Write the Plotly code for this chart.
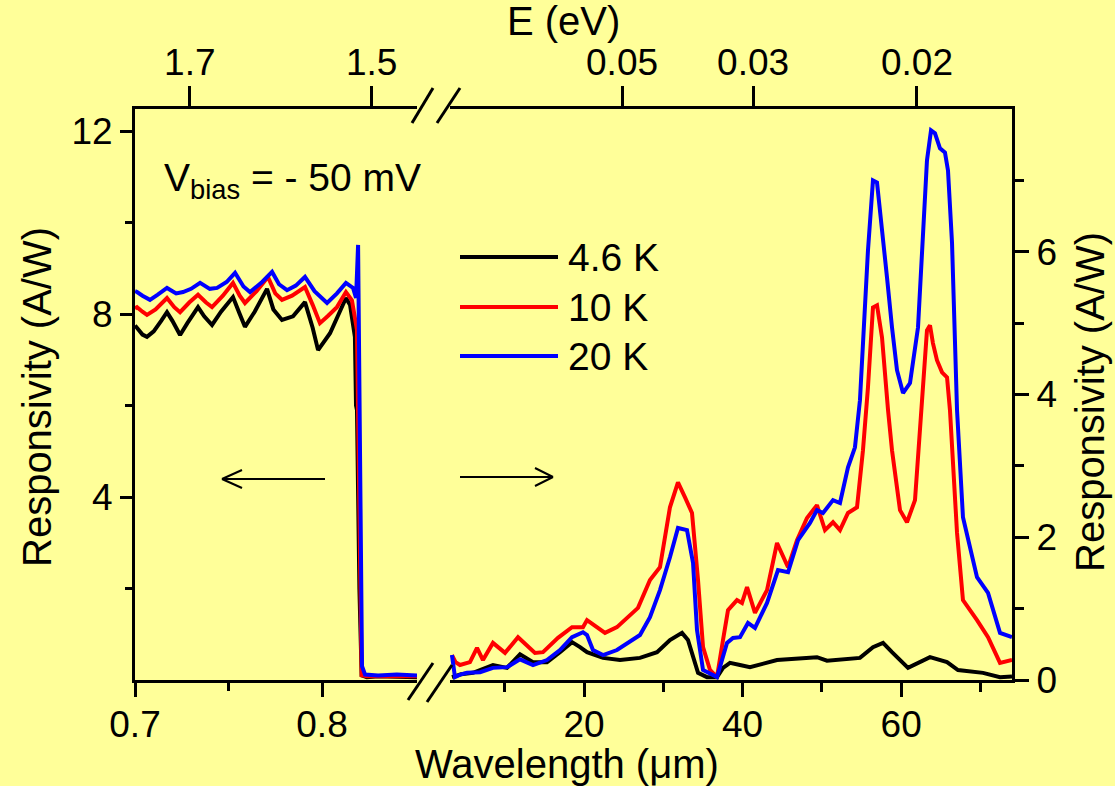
import plotly.graph_objects as go

# ---------------- data ----------------
# near-IR part (left axis, A/W), wavelength in micrometres
nir_x_black = [0.7000, 0.7011, 0.7040, 0.7064, 0.7100, 0.7140, 0.7171, 0.7200, 0.7241, 0.7280,
               0.7337, 0.7370, 0.7412, 0.7460, 0.7524, 0.7560, 0.7588, 0.7640, 0.7706, 0.7740,
               0.7786, 0.7845, 0.7909, 0.7950, 0.7979, 0.8043, 0.8090, 0.8128, 0.8150, 0.8176,
               0.8182, 0.8187, 0.8200, 0.8212, 0.8240, 0.8300, 0.8400, 0.8508]
nir_y_black = [7.75, 7.69, 7.55, 7.50, 7.62, 7.85, 8.04, 7.85, 7.54, 7.80,
               8.15, 7.95, 7.76, 8.05, 8.37, 8.00, 7.72, 8.05, 8.55, 8.10,
               7.87, 7.95, 8.26, 7.70, 7.21, 7.58, 8.00, 8.35, 8.20, 7.50,
               6.00, 5.90, 2.00, 0.10, 0.06, 0.08, 0.07, 0.06]

nir_x_red = [0.7000, 0.7011, 0.7040, 0.7064, 0.7110, 0.7171, 0.7210, 0.7241, 0.7290, 0.7337,
             0.7380, 0.7412, 0.7470, 0.7524, 0.7560, 0.7588, 0.7650, 0.7711, 0.7750, 0.7786,
             0.7840, 0.7909, 0.7950, 0.7989, 0.8030, 0.8080, 0.8128, 0.8160, 0.8187, 0.8198,
             0.8212, 0.8240, 0.8300, 0.8400, 0.8508]
nir_y_red = [8.12, 8.15, 8.05, 7.98, 8.10, 8.35, 8.15, 8.04, 8.25, 8.42,
             8.25, 8.15, 8.40, 8.68, 8.40, 8.24, 8.50, 8.81, 8.45, 8.31,
             8.40, 8.59, 8.20, 7.80, 7.95, 8.15, 8.48, 8.30, 7.65, 4.00,
             0.10, 0.08, 0.09, 0.08, 0.08]

nir_x_blue = [0.7000, 0.7011, 0.7040, 0.7080, 0.7120, 0.7171, 0.7220, 0.7257, 0.7300, 0.7348,
              0.7400, 0.7439, 0.7490, 0.7535, 0.7580, 0.7615, 0.7680, 0.7733, 0.7770, 0.7813,
              0.7860, 0.7909, 0.7960, 0.8027, 0.8080, 0.8128, 0.8166, 0.8182, 0.8193, 0.8200,
              0.8214, 0.8230, 0.8300, 0.8400, 0.8508]
nir_y_blue = [8.50, 8.48, 8.40, 8.31, 8.42, 8.57, 8.45, 8.48, 8.55, 8.68,
              8.55, 8.57, 8.70, 8.90, 8.60, 8.48, 8.70, 8.92, 8.65, 8.52,
              8.62, 8.81, 8.50, 8.24, 8.45, 8.68, 8.57, 8.35, 9.51, 7.00,
              0.30, 0.12, 0.10, 0.12, 0.10]

# far-IR part (right axis, A/W), wavelength in micrometres
fir_x_black = [3.35, 4.5, 6.0, 7.3, 8.52, 10.29, 11.93, 13.57, 15.33, 16.97,
               18.49, 19.5, 20.38, 22.40, 24.54, 27.06, 29.21, 30.84, 32.36, 33.11,
               33.75, 34.38, 35.51, 36.77, 37.53, 38.41, 39.67, 40.93, 44.34, 47.24,
               49.38, 50.64, 54.80, 56.44, 57.71, 58.84, 60.86, 63.63, 65.78, 67.16,
               70.32, 72.46, 73.97]
fir_y_black = [0.04, 0.08, 0.10, 0.15, 0.21, 0.17, 0.36, 0.25, 0.25, 0.39,
               0.53, 0.46, 0.39, 0.31, 0.28, 0.31, 0.39, 0.56, 0.66, 0.56,
               0.32, 0.10, 0.04, 0.04, 0.17, 0.24, 0.21, 0.18, 0.28, 0.31,
               0.32, 0.27, 0.31, 0.46, 0.52, 0.39, 0.17, 0.32, 0.25, 0.14,
               0.10, 0.04, 0.05]

fir_x_red = [3.35, 3.8, 4.36, 5.62, 6.51, 7.26, 8.52, 10.04, 11.68, 13.82,
             14.83, 16.72, 18.49, 19.87, 20.38, 21.64, 22.65, 24.16, 25.42, 26.81,
             28.32, 29.58, 30.84, 31.85, 32.74, 33.62, 34.38, 35.01, 35.89, 36.77,
             37.53, 38.16, 39.29, 39.92, 40.56, 41.56, 43.08, 44.34, 45.73, 46.86,
             48.12, 49.38, 50.39, 51.40, 52.28, 53.29, 54.43, 55.18, 55.81, 56.44,
             56.95, 57.58, 58.34, 58.84, 59.85, 60.73, 61.74, 62.62, 63.25, 63.63,
             64.0, 64.51, 65.15, 65.78, 66.15, 67.04, 67.79, 69.56, 70.95, 72.46,
             73.97]
fir_y_red = [0.35, 0.25, 0.21, 0.25, 0.45, 0.28, 0.52, 0.38, 0.60, 0.38,
             0.39, 0.59, 0.74, 0.74, 0.84, 0.74, 0.66, 0.74, 0.87, 1.01,
             1.40, 1.58, 2.42, 2.77, 2.56, 2.34, 1.40, 0.46, 0.14, 0.04,
             0.56, 0.98, 1.12, 1.08, 1.30, 0.94, 1.26, 1.92, 1.58, 1.96,
             2.27, 2.45, 2.10, 2.21, 2.10, 2.34, 2.42, 3.22, 4.10, 5.22,
             5.25, 4.80, 3.78, 3.22, 2.38, 2.21, 2.52, 3.92, 4.90, 4.97,
             4.72, 4.48, 4.31, 4.24, 3.78, 2.06, 1.12, 0.84, 0.60, 0.24,
             0.28]

fir_x_blue = [3.35, 3.73, 4.5, 5.25, 6.89, 8.52, 10.29, 11.93, 13.57, 15.33,
              16.97, 18.49, 19.87, 20.38, 21.13, 22.40, 24.16, 25.55, 27.06, 28.32,
              29.58, 30.84, 31.85, 32.99, 33.75, 34.25, 35.01, 36.77, 38.03, 38.79,
              39.67, 40.68, 41.56, 43.08, 44.46, 45.73, 46.99, 48.50, 49.38, 50.14,
              51.40, 52.28, 53.29, 54.17, 54.80, 55.81, 56.44, 56.95, 57.58, 58.21,
              58.84, 59.47, 60.23, 61.11, 62.12, 63.25, 63.76, 64.26, 64.89, 65.52,
              65.90, 66.41, 67.04, 67.79, 69.56, 70.95, 72.46, 73.97]
fir_y_blue = [0.35, 0.04, 0.08, 0.10, 0.11, 0.17, 0.18, 0.29, 0.21, 0.28,
              0.42, 0.60, 0.67, 0.63, 0.42, 0.35, 0.42, 0.52, 0.63, 0.88,
              1.26, 1.72, 2.13, 2.10, 1.64, 0.70, 0.14, 0.04, 0.52, 0.59,
              0.60, 0.80, 0.73, 1.08, 1.54, 1.51, 1.96, 2.20, 2.38, 2.34,
              2.52, 2.48, 2.98, 3.26, 3.92, 6.02, 7.00, 6.97, 6.34, 5.64,
              4.94, 4.34, 4.02, 4.16, 4.94, 7.28, 7.70, 7.66, 7.45, 7.39,
              7.14, 6.12, 3.78, 2.28, 1.44, 1.22, 0.66, 0.60]

series_names = ["4.6 K", "10 K", "20 K"]
series_colors = ["#000000", "#FF0000", "#0000FF"]

# top axis (photon energy) tick labels
energy_ticks_nir = [1.7, 1.5]
energy_ticks_fir = [0.05, 0.03, 0.02]
HC = 1.2398  # eV*um

# ---------------- figure ----------------
W, H = 1115, 786
L, R, T, B = 135, 103, 109, 106
PW, PH = W - L - R, H - T - B


def px(xp):
    return (xp - L) / PW


def py(yp):
    return (H - B - yp) / PH


FONT = "Liberation Sans, Arial, sans-serif"
BG = "#FFFF99"

fig = go.Figure()

nir = [(nir_x_black, nir_y_black), (nir_x_red, nir_y_red), (nir_x_blue, nir_y_blue)]
fir = [(fir_x_black, fir_y_black), (fir_x_red, fir_y_red), (fir_x_blue, fir_y_blue)]
for (xs, ys), name, col in zip(nir, series_names, series_colors):
    fig.add_trace(go.Scatter(x=xs, y=ys, mode="lines", name=name, xaxis="x", yaxis="y",
                             line=dict(color=col, width=4), showlegend=False))
for (xs, ys), name, col in zip(fir, series_names, series_colors):
    fig.add_trace(go.Scatter(x=xs, y=ys, mode="lines", name=name, xaxis="x2", yaxis="y2",
                             line=dict(color=col, width=4), showlegend=False))
# empty traces so the top (energy) axes are created
fig.add_trace(go.Scatter(x=[], y=[], xaxis="x3", yaxis="y", showlegend=False))
fig.add_trace(go.Scatter(x=[], y=[], xaxis="x4", yaxis="y2", showlegend=False))

d1 = (417 - L) / PW
d2 = (450 - L) / PW
xr1 = [0.7, 0.7 + (417 - L) / 1870.0]
xr2 = [20 - (584 - 450) / 7.93, 20 + (1012 - 584) / 7.93]

tickfont = dict(family=FONT, size=37, color="black")
common = dict(showgrid=False, zeroline=False, showline=True, linecolor="black", linewidth=3,
              tickcolor="black", tickwidth=3, tickfont=tickfont, automargin=False)

fig.update_layout(
    width=W, height=H,
    margin=dict(l=L, r=R, t=T, b=B, autoexpand=False),
    paper_bgcolor=BG, plot_bgcolor=BG,
    font=dict(family=FONT, size=37, color="black"),
    showlegend=False,
    xaxis=dict(domain=[0, d1], range=xr1, anchor="y", ticks="outside", ticklen=14,
               ticklabelstandoff=-4,
               tickmode="array", tickvals=[0.7, 0.8], ticktext=["0.7", "0.8"],
               minor=dict(tickmode="array", tickvals=[0.75], ticks="outside", ticklen=8,
                          tickwidth=3, tickcolor="black"),
               **common),
    xaxis3=dict(overlaying="x", anchor="y", side="top", range=xr1, ticks="outside", ticklen=20,
                ticklabelstandoff=-4,
                tickmode="array", tickvals=[HC / e for e in energy_ticks_nir],
                ticktext=[str(e) for e in energy_ticks_nir], **common),
    xaxis2=dict(domain=[d2, 1], range=xr2, anchor="y2", ticks="outside", ticklen=14,
                ticklabelstandoff=-4,
                tickmode="array", tickvals=[20, 40, 60], ticktext=["20", "40", "60"],
                minor=dict(tickmode="array", tickvals=[10, 30, 50, 70], ticks="outside", ticklen=9,
                           tickwidth=3, tickcolor="black"),
                **common),
    xaxis4=dict(overlaying="x2", anchor="y2", side="top", range=xr2, ticks="outside", ticklen=20,
                ticklabelstandoff=-4,
                tickmode="array", tickvals=[HC / e for e in energy_ticks_fir],
                ticktext=[str(e) for e in energy_ticks_fir], **common),
    yaxis=dict(anchor="x", domain=[0, 1], range=[0, (H - B - T) / 45.75], side="left",
               ticks="outside", ticklen=12, tickmode="array", tickvals=[4, 8, 12],
               ticktext=["4", "8", "12"],
               minor=dict(tickmode="array", tickvals=[2, 6, 10], ticks="outside", ticklen=7,
                          tickwidth=3, tickcolor="black"),
               **common),
    yaxis2=dict(anchor="x2", domain=[0, 1], range=[0, 8], side="right",
                ticks="outside", ticklen=14, tickmode="array", tickvals=[0, 2, 4, 6],
                ticktext=["0", "2", "4", "6"],
                minor=dict(tickmode="array", tickvals=[1, 3, 5, 7], ticks="outside", ticklen=9,
                           tickwidth=3, tickcolor="black"),
                **common),
)

shapes = []


def seg(x0, y0, x1, y1, w=3):
    shapes.append(dict(type="line", xref="paper", yref="paper", x0=px(x0), y0=py(y0),
                       x1=px(x1), y1=py(y1), line=dict(color="black", width=w)))


# axis-break marks (top and bottom)
seg(412, 123, 433, 88)
seg(437, 123, 460, 88)
seg(408, 700, 433, 663)
seg(427, 702, 452, 665)

# arrows pointing to the axes used
seg(325, 479, 222, 479, 2)
seg(242, 470, 222, 479, 2)
seg(242, 488, 222, 479, 2)
seg(460, 477, 553, 477, 2)
seg(535, 468, 553, 477, 2)
seg(535, 486, 553, 477, 2)

# legend samples
legend_y = [257, 307, 356]
for yy, col in zip(legend_y, series_colors):
    shapes.append(dict(type="line", xref="paper", yref="paper", x0=px(460), x1=px(558),
                       y0=py(yy), y1=py(yy), line=dict(color=col, width=4)))

fig.update_layout(shapes=shapes)

ann = []
for yy, name in zip(legend_y, series_names):
    ann.append(dict(text=name, x=px(566), y=py(yy), xref="paper", yref="paper",
                    xanchor="left", yanchor="middle", showarrow=False,
                    font=dict(family=FONT, size=39, color="black")))

ann.append(dict(text="V<sub>bias</sub> = - 50 mV", x=px(162), y=py(180), xref="paper", yref="paper",
                xanchor="left", yanchor="middle", showarrow=False,
                font=dict(family=FONT, size=39, color="black")))
ann.append(dict(text="Responsivity (A/W)", x=px(37), y=py(397), xref="paper", yref="paper",
                xanchor="center", yanchor="middle", textangle=-90, showarrow=False,
                font=dict(family=FONT, size=40, color="black")))
ann.append(dict(text="Responsivity (A/W)", x=px(1090), y=py(402), xref="paper", yref="paper",
                xanchor="center", yanchor="middle", textangle=-90, showarrow=False,
                font=dict(family=FONT, size=40, color="black")))
ann.append(dict(text="E (eV)", x=px(563), y=py(21), xref="paper", yref="paper",
                xanchor="center", yanchor="middle", showarrow=False,
                font=dict(family=FONT, size=40, color="black")))
ann.append(dict(text="Wavelength (μm)", x=px(567), y=py(764), xref="paper", yref="paper",
                xanchor="center", yanchor="middle", showarrow=False,
                font=dict(family=FONT, size=40, color="black")))
fig.update_layout(annotations=ann)

fig.write_html("out.html", config={"displayModeBar": False},
               post_script="document.body.style.margin='0';document.body.style.overflow='hidden';")
